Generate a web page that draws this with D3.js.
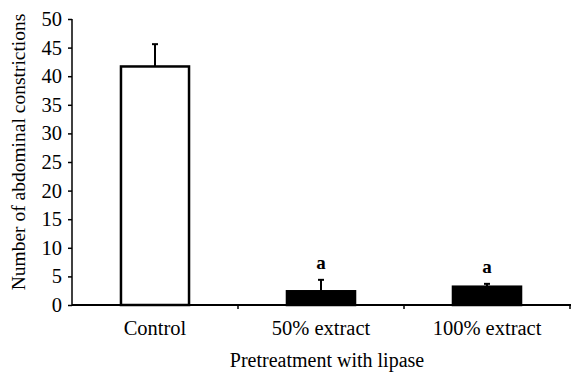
<!DOCTYPE html>
<html><head><meta charset="utf-8">
<script src="https://cdn.jsdelivr.net/npm/d3@7"></script>
<style>body{margin:0;background:#fff}text{font-family:"Liberation Serif","Times New Roman",serif}</style>
</head><body>
<svg id="c" width="572" height="372"></svg>
<script>
const categories = ["Control", "50% extract", "100% extract"];
const means = [41.7, 2.4, 3.2];
const errors = [3.9, 2.0, 0.5];
const sigLabels = ["", "a", "a"];
const fills = ["#fff", "#000", "#000"];
const yTicks = [0,5,10,15,20,25,30,35,40,45,50];

const svg = d3.select("#c");
const x = d3.scaleBand().domain(categories).range([72, 570]).paddingInner(0).paddingOuter(0);
const y = d3.scaleLinear().domain([0, 50]).range([305, 19]);
const bw = x.bandwidth() * 0.41;
const FS = 20.5;

const g = svg.append("g");
g.selectAll("rect.bar").data(categories).enter().append("rect")
  .attr("x", (d) => x(d) + x.bandwidth()/2 - bw/2)
  .attr("y", (d,i) => y(means[i]))
  .attr("width", bw)
  .attr("height", (d,i) => y(0) - y(means[i]))
  .attr("fill", (d,i) => fills[i])
  .attr("stroke", "#000").attr("stroke-width", 2.5);
categories.forEach((c,i) => {
  const cx = x(c) + x.bandwidth()/2;
  g.append("line").attr("x1", cx).attr("x2", cx)
    .attr("y1", y(means[i])).attr("y2", y(means[i]+errors[i]))
    .attr("stroke", "#000").attr("stroke-width", 2);
  g.append("line").attr("x1", cx-3).attr("x2", cx+3)
    .attr("y1", y(means[i]+errors[i])).attr("y2", y(means[i]+errors[i]))
    .attr("stroke", "#000").attr("stroke-width", 2);
  if (sigLabels[i]) {
    g.append("text").attr("x", cx).attr("y", y(means[i]+errors[i]) - 11)
      .attr("text-anchor", "middle").style("font-size", "19px").style("font-weight", "bold").text(sigLabels[i]);
  }
});

const yAxis = d3.axisLeft(y).tickValues(yTicks).tickSize(4).tickPadding(6);
const ya = svg.append("g").attr("transform", "translate(72,0)").call(yAxis);
ya.attr("font-size", null).attr("font-family", null);
ya.selectAll("path,line").attr("stroke", "#000").attr("stroke-width", 1.5);
ya.select("path").attr("d", `M0,${y(50)}V${y(0)}`);
ya.selectAll("text").style("font-size", FS + "px").attr("fill", "#000");

const xa = svg.append("g").attr("transform", "translate(0,305)");
xa.append("line").attr("x1", 72).attr("x2", 571).attr("y1", 0).attr("y2", 0).attr("stroke", "#000").attr("stroke-width", 2);
const bounds = [x(categories[1]), x(categories[2]), x(categories[2]) + x.bandwidth()];
xa.selectAll("line.t").data(bounds).enter().append("line")
  .attr("x1", d => d).attr("x2", d => d).attr("y1", 0).attr("y2", 4)
  .attr("stroke", "#000").attr("stroke-width", 1.5);
xa.selectAll("text.c").data(categories).enter().append("text")
  .attr("x", d => x(d) + x.bandwidth()/2).attr("y", 30)
  .attr("text-anchor", "middle").style("font-size", FS + "px").text(d => d);

svg.append("text").attr("x", 327).attr("y", 367).attr("text-anchor", "middle")
  .style("font-size", "20px").text("Pretreatment with lipase");
svg.append("text").attr("transform", "translate(25,152) rotate(-90)")
  .attr("text-anchor", "middle").style("font-size", "19.5px").text("Number of abdominal constrictions");
</script>
</body></html>
